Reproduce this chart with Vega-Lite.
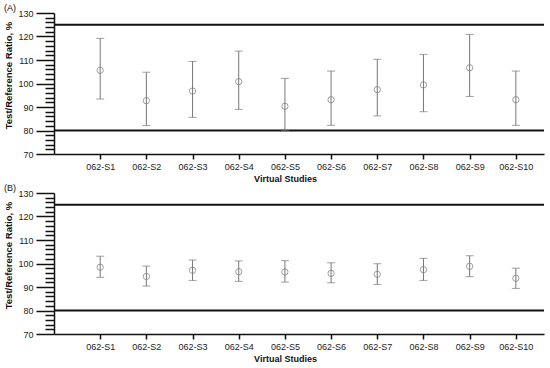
{
  "$schema": "https://vega.github.io/schema/vega-lite/v6.json",
  "padding": {"left": 3, "top": 4, "right": 5, "bottom": 2},
  "background": "white",
  "config": {
    "view": {"stroke": null},
    "font": "Liberation Sans",
    "title": {"font": "Liberation Sans", "fontSize": 9, "fontWeight": "normal", "color": "#111", "anchor": "start", "frame": "bounds", "offset": -4}
  },
  "datasets": {
    "studies": [
      {"panel": "A", "idx": 1, "study": "062-S1", "est": 105.6, "lo": 93.4, "hi": 119.2},
      {"panel": "A", "idx": 2, "study": "062-S2", "est": 92.7, "lo": 82.1, "hi": 104.8},
      {"panel": "A", "idx": 3, "study": "062-S3", "est": 96.8, "lo": 85.6, "hi": 109.4},
      {"panel": "A", "idx": 4, "study": "062-S4", "est": 100.8, "lo": 89.0, "hi": 113.8},
      {"panel": "A", "idx": 5, "study": "062-S5", "est": 90.3, "lo": 80.1, "hi": 102.2},
      {"panel": "A", "idx": 6, "study": "062-S6", "est": 93.1, "lo": 82.2, "hi": 105.3},
      {"panel": "A", "idx": 7, "study": "062-S7", "est": 97.4, "lo": 86.2, "hi": 110.3},
      {"panel": "A", "idx": 8, "study": "062-S8", "est": 99.4, "lo": 88.0, "hi": 112.4},
      {"panel": "A", "idx": 9, "study": "062-S9", "est": 106.7, "lo": 94.5, "hi": 120.9},
      {"panel": "A", "idx": 10, "study": "062-S10", "est": 93.1, "lo": 82.2, "hi": 105.3},
      {"panel": "B", "idx": 1, "study": "062-S1", "est": 98.4, "lo": 94.1, "hi": 103.1},
      {"panel": "B", "idx": 2, "study": "062-S2", "est": 94.5, "lo": 90.4, "hi": 98.9},
      {"panel": "B", "idx": 3, "study": "062-S3", "est": 97.1, "lo": 92.8, "hi": 101.5},
      {"panel": "B", "idx": 4, "study": "062-S4", "est": 96.5, "lo": 92.4, "hi": 101.1},
      {"panel": "B", "idx": 5, "study": "062-S5", "est": 96.4, "lo": 92.1, "hi": 101.2},
      {"panel": "B", "idx": 6, "study": "062-S6", "est": 95.8, "lo": 91.8, "hi": 100.3},
      {"panel": "B", "idx": 7, "study": "062-S7", "est": 95.4, "lo": 91.1, "hi": 99.9},
      {"panel": "B", "idx": 8, "study": "062-S8", "est": 97.4, "lo": 92.8, "hi": 102.2},
      {"panel": "B", "idx": 9, "study": "062-S9", "est": 98.8, "lo": 94.4, "hi": 103.3},
      {"panel": "B", "idx": 10, "study": "062-S10", "est": 93.7, "lo": 89.4, "hi": 98.0}
    ],
    "refs": [{"ref": 80}, {"ref": 125}]
  },
  "bounds": "flush",
  "spacing": 39,
  "vconcat": [
    {
      "title": {"text": "(A)"},
      "width": 490,
      "height": 141,
      "resolve": {"axis": {"y": "independent"}},
      "layer": [
        {"data": {"name": "refs"}, "mark": {"type": "rule", "color": "#111", "strokeWidth": 2},
          "encoding": {"y": {"field": "ref", "type": "quantitative",
            "scale": {"domain": [70, 130], "nice": false, "zero": false},
            "axis": {"orient": "left", "values": [72,74,76,78,82,84,86,88,92,94,96,98,102,104,106,108,112,114,116,118,122,124,126,128],
              "labels": false, "domain": false, "title": null, "grid": false, "tickSize": 9, "tickColor": "#111", "tickWidth": 1.5}}}},
        {"data": {"name": "studies"}, "transform": [{"filter": "datum.panel === 'A'"}],
          "mark": {"type": "errorbar", "color": "#777", "ticks": {"size": 8, "color": "#777"}, "rule": {"strokeWidth": 1}},
          "encoding": {
            "x": {"field": "idx", "type": "quantitative"},
            "y": {"field": "lo", "type": "quantitative", "axis": null},
            "y2": {"field": "hi"}}},
        {"data": {"name": "studies"}, "transform": [{"filter": "datum.panel === 'A'"}],
          "mark": {"type": "point", "shape": "circle", "filled": false, "color": "#777", "size": 40, "strokeWidth": 1},
          "encoding": {
            "x": {"field": "idx", "type": "quantitative",
              "scale": {"domain": [0, 10.61], "nice": false, "zero": false},
              "axis": {"values": [1,2,3,4,5,6,7,8,9,10], "labelExpr": "'062-S' + datum.value", "title": "Virtual Studies",
                "grid": false, "domainColor": "#111", "domainWidth": 1.5, "tickColor": "#111", "tickWidth": 1.5, "tickSize": 5,
                "labelFont": "Liberation Sans", "labelFontSize": 9, "labelColor": "#222", "labelPadding": 3,
                "titleFont": "Liberation Sans", "titleFontSize": 9, "titleFontWeight": "bold", "titleColor": "#111", "titlePadding": 3, "titleX": 231}},
            "y": {"field": "est", "type": "quantitative",
              "axis": {"orient": "left", "values": [70,80,90,100,110,120,130], "tickSize": 18,
                "title": "Test/Reference Ratio, %", "grid": false, "domainColor": "#111", "domainWidth": 1.5, "tickColor": "#111", "tickWidth": 1.5,
                "labelFont": "Liberation Sans", "labelFontSize": 9, "labelColor": "#222", "labelPadding": 3,
                "titleFont": "Liberation Sans", "titleFontSize": 9.5, "titleFontWeight": "bold", "titleColor": "#111", "titleY": 62, "titlePadding": 4}}}}
      ]
    },
    {
      "title": {"text": "(B)"},
      "width": 490,
      "height": 141,
      "resolve": {"axis": {"y": "independent"}},
      "layer": [
        {"data": {"name": "refs"}, "mark": {"type": "rule", "color": "#111", "strokeWidth": 2},
          "encoding": {"y": {"field": "ref", "type": "quantitative",
            "scale": {"domain": [70, 130], "nice": false, "zero": false},
            "axis": {"orient": "left", "values": [72,74,76,78,82,84,86,88,92,94,96,98,102,104,106,108,112,114,116,118,122,124,126,128],
              "labels": false, "domain": false, "title": null, "grid": false, "tickSize": 9, "tickColor": "#111", "tickWidth": 1.5}}}},
        {"data": {"name": "studies"}, "transform": [{"filter": "datum.panel === 'B'"}],
          "mark": {"type": "errorbar", "color": "#777", "ticks": {"size": 8, "color": "#777"}, "rule": {"strokeWidth": 1}},
          "encoding": {
            "x": {"field": "idx", "type": "quantitative"},
            "y": {"field": "lo", "type": "quantitative", "axis": null},
            "y2": {"field": "hi"}}},
        {"data": {"name": "studies"}, "transform": [{"filter": "datum.panel === 'B'"}],
          "mark": {"type": "point", "shape": "circle", "filled": false, "color": "#777", "size": 40, "strokeWidth": 1},
          "encoding": {
            "x": {"field": "idx", "type": "quantitative",
              "scale": {"domain": [0, 10.61], "nice": false, "zero": false},
              "axis": {"values": [1,2,3,4,5,6,7,8,9,10], "labelExpr": "'062-S' + datum.value", "title": "Virtual Studies",
                "grid": false, "domainColor": "#111", "domainWidth": 1.5, "tickColor": "#111", "tickWidth": 1.5, "tickSize": 5,
                "labelFont": "Liberation Sans", "labelFontSize": 9, "labelColor": "#222", "labelPadding": 3,
                "titleFont": "Liberation Sans", "titleFontSize": 9, "titleFontWeight": "bold", "titleColor": "#111", "titlePadding": 3, "titleX": 231}},
            "y": {"field": "est", "type": "quantitative",
              "axis": {"orient": "left", "values": [70,80,90,100,110,120,130], "tickSize": 18,
                "title": "Test/Reference Ratio, %", "grid": false, "domainColor": "#111", "domainWidth": 1.5, "tickColor": "#111", "tickWidth": 1.5,
                "labelFont": "Liberation Sans", "labelFontSize": 9, "labelColor": "#222", "labelPadding": 3,
                "titleFont": "Liberation Sans", "titleFontSize": 9.5, "titleFontWeight": "bold", "titleColor": "#111", "titleY": 62, "titlePadding": 4}}}}
      ]
    }
  ]
}
